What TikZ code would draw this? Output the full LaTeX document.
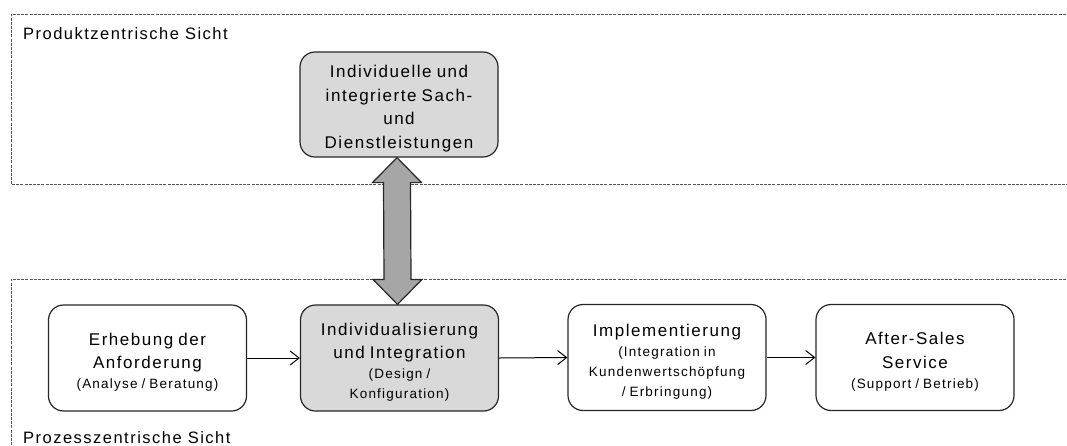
\documentclass[tikz,border=0pt]{standalone}
\usepackage{fontspec}
\setmainfont{Liberation Sans}[LetterSpace=9]
\usetikzlibrary{calc,arrows.meta}
\definecolor{boxgray}{HTML}{D9D9D9}
\definecolor{arrowgray}{HTML}{A6A6A6}
\definecolor{dashgray}{HTML}{555555}
% text sizes; word spaces are reset so they follow the size in force
\newcommand{\bigtxt}{\fontsize{17}{23.5}\selectfont\spaceskip=.3em\relax}
\newcommand{\smalltxt}{\fontsize{13.5}{20}\selectfont\spaceskip=.3em\relax}
% invisible strut that lowers the text block a little inside its box
\newcommand{\toplift}{\rule{0pt}{21pt}}
\tikzset{
  stepbox/.style={draw=black!85, line width=1.2pt, rounded corners=15pt,
    minimum width=198pt, minimum height=106pt, text width=196pt,
    align=center, inner sep=0pt, fill=white},
  graybox/.style={stepbox, fill=boxgray},
  flow/.style={draw=black, line width=1pt, -{Straight Barb[length=9pt,width=14pt]}},
  zone/.style={draw=dashgray, line width=0.9pt, dash pattern=on 3pt off 1.2pt},
  zonelabel/.style={anchor=base west, inner sep=0pt, font=\fontsize{16.5}{18}\selectfont},
  bigarrow/.style={draw=black!85, line width=1.2pt, fill=arrowgray, line join=miter}
}
\begin{document}
\begin{tikzpicture}[x=1pt, y=-1pt]
\useasboundingbox (0,0) rectangle (1067,445);

% dashed zones, open to the right
\draw[zone] (1070,14) -- (11,14) -- (11,184.5) -- (1070,184.5);
\draw[zone] (1070,279) -- (11,279) -- (11,448);
\node[zonelabel] (prodlabel) at (23,39) {Produktzentrische Sicht};
\node[zonelabel] (proclabel) at (23,443) {Prozesszentrische Sicht};

% product node
\node[graybox, minimum height=105pt] (product) at (399,104.5)
  {\bigtxt\toplift Individuelle und\\integrierte Sach-\\und\\Dienstleistungen\par};

% process chain
\node[stepbox] (req) at (147.5,358)
  {{\bigtxt\toplift Erhebung der\\Anforderung\par}{\smalltxt (Analyse / Beratung)\par}};
\node[graybox] (indiv) at (399.5,358)
  {{\bigtxt\toplift Individualisierung\\und Integration\par}{\smalltxt (Design /\\Konfiguration)\par}};
\node[stepbox] (impl) at (667,357.5)
  {{\bigtxt\toplift Implementierung\par}{\smalltxt (Integration in\\Kundenwertschöpfung\\/ Erbringung)\par}};
\node[stepbox] (after) at (915,357.5)
  {{\bigtxt\toplift After-Sales\\Service\par}{\smalltxt (Support / Betrieb)\par}};

\draw[flow] (req.east) -- (indiv.west);
\draw[flow] (indiv.east) -- (impl.west);
\draw[flow] (impl.east) -- (after.west);

% double block arrow between product and process view
\draw[bigarrow] ([xshift=-2pt]product.south)
  -- ++(24.5,25) -- ++(-11,0) -- ($([xshift=-2pt]indiv.north)+(13.5,-25)$)
  -- ++(11,0) -- ([xshift=-2pt]indiv.north)
  -- ++(-24.5,-25) -- ++(11,0) -- ($([xshift=-2pt]product.south)+(-13.5,25)$)
  -- ++(-11,0) -- cycle;
\end{tikzpicture}
\end{document}
